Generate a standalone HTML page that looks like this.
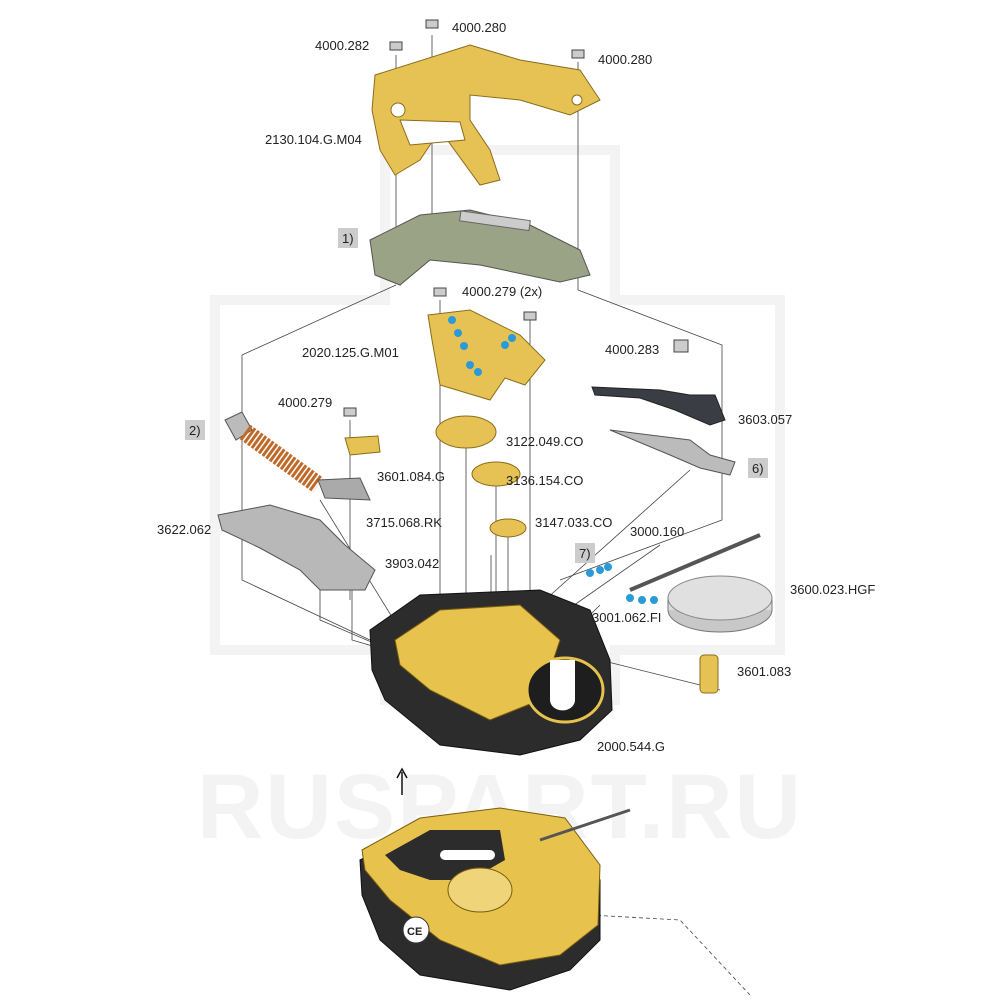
<!DOCTYPE html>
<html><head><meta charset="utf-8"><style>
html,body{margin:0;padding:0;background:#fff;}
svg{display:block;}
text{font-family:"Liberation Sans",sans-serif;font-size:13px;fill:#222;}
</style></head><body>
<svg width="1000" height="1000" viewBox="0 0 1000 1000" xmlns="http://www.w3.org/2000/svg">
<g fill="none" stroke="#f3f3f3" stroke-width="10">
<path d="M385 150 H615 V300 H780 V650 H615 V700 H385 V650 H215 V300 H385 Z"/>
</g>
<text x="500" y="838" text-anchor="middle" style="font-size:92px;font-weight:bold;fill:#f3f3f3;letter-spacing:2px">RUSPART.RU</text>

<g stroke="#444" stroke-width="0.8" fill="none">
<line x1="396" y1="55" x2="396" y2="270"/>
<line x1="432" y1="35" x2="432" y2="240"/>
<line x1="578" y1="62" x2="578" y2="290"/>
<path d="M396 285 L242 355 V580 L370 640"/>
<path d="M578 290 L722 345 V520 L560 580"/>
<line x1="440" y1="300" x2="440" y2="660"/>
<line x1="530" y1="320" x2="530" y2="650"/>
<line x1="466" y1="420" x2="466" y2="690"/>
<line x1="496" y1="470" x2="496" y2="690"/>
<line x1="508" y1="520" x2="508" y2="690"/>
<line x1="491" y1="555" x2="491" y2="670"/>
<line x1="350" y1="420" x2="350" y2="600"/>
<path d="M320 560 L320 620 L390 650"/>
<path d="M352 590 L352 640 L420 660"/>
<line x1="320" y1="500" x2="400" y2="630"/>
<line x1="690" y1="470" x2="545" y2="600"/>
<line x1="660" y1="545" x2="560" y2="615"/>
<line x1="600" y1="605" x2="575" y2="630"/>
<line x1="720" y1="690" x2="600" y2="660"/>
<path d="M590 915 L680 920 L750 995" stroke-dasharray="4,3"/>
</g>

<path d="M375 75 L470 45 L520 60 L580 70 L600 100 L570 115 L520 100 L470 95 L470 120 L490 150 L500 180 L480 185 L440 130 L420 160 L395 175 L380 150 L372 110 Z" fill="#e6c255" stroke="#8a6d1a"/>
<path d="M400 120 L460 122 L465 140 L410 145 Z" fill="#fff" stroke="#8a6d1a"/>
<circle cx="398" cy="110" r="7" fill="#fff" stroke="#8a6d1a"/>
<circle cx="577" cy="100" r="5" fill="#fff" stroke="#8a6d1a"/>
<path d="M370 240 L420 215 L470 210 L530 225 L580 250 L590 275 L560 282 L480 265 L430 260 L400 285 L375 275 Z" fill="#9aa386" stroke="#555"/>
<rect x="460" y="215" width="70" height="10" fill="#ccc" stroke="#666" transform="rotate(8 490 220)"/>
<path d="M428 315 L470 310 L520 335 L545 360 L525 385 L505 378 L490 400 L440 385 L432 340 Z" fill="#e6c255" stroke="#8a6d1a"/>
<g fill="#2a9ad8"><circle cx="452" cy="320" r="4"/><circle cx="458" cy="333" r="4"/><circle cx="464" cy="346" r="4"/><circle cx="505" cy="345" r="4"/><circle cx="512" cy="338" r="4"/><circle cx="470" cy="365" r="4"/><circle cx="478" cy="372" r="4"/></g>
<ellipse cx="466" cy="432" rx="30" ry="16" fill="#e6c255" stroke="#8a6d1a"/>
<ellipse cx="496" cy="474" rx="24" ry="12" fill="#e6c255" stroke="#8a6d1a"/>
<ellipse cx="508" cy="528" rx="18" ry="9" fill="#e6c255" stroke="#8a6d1a"/>
<!-- spring -->
<path d="M225 420 L242 412 L252 430 L236 440 Z" fill="#bbb" stroke="#555"/>
<line x1="245" y1="432" x2="318" y2="485" stroke="#c06a2a" stroke-width="18" stroke-dasharray="3,1.5"/>
<path d="M318 480 L360 478 L370 500 L325 498 Z" fill="#aaa" stroke="#555"/>
<path d="M345 438 L378 436 L380 452 L350 455 Z" fill="#e6c255" stroke="#8a6d1a"/>
<path d="M218 515 L270 505 L320 520 L345 545 L375 570 L365 590 L320 590 L300 570 L260 548 L222 530 Z" fill="#b8b8b8" stroke="#555"/>
<path d="M592 387 L660 390 L690 395 L715 395 L725 420 L710 425 L675 410 L640 398 L595 395 Z" fill="#3a3d44" stroke="#222"/>
<path d="M610 430 L690 440 L710 455 L735 462 L730 475 L700 468 L670 455 Z" fill="#bbb" stroke="#555"/>
<ellipse cx="720" cy="610" rx="52" ry="22" fill="#c8c8c8" stroke="#777"/>
<path d="M668 610 L668 600 A52 22 0 0 1 772 600 L772 610" fill="#ddd" stroke="#777"/>
<ellipse cx="720" cy="598" rx="52" ry="22" fill="#e0e0e0" stroke="#888"/>
<line x1="630" y1="590" x2="760" y2="535" stroke="#555" stroke-width="4"/>
<g fill="#2a9ad8"><circle cx="590" cy="573" r="4"/><circle cx="600" cy="570" r="4"/><circle cx="608" cy="567" r="4"/><circle cx="630" cy="598" r="4"/><circle cx="642" cy="600" r="4"/><circle cx="654" cy="600" r="4"/></g>
<rect x="700" y="655" width="18" height="38" rx="4" fill="#e6c255" stroke="#8a6d1a"/>

<path d="M370 630 L420 595 L540 590 L590 610 L610 660 L612 710 L580 740 L520 755 L440 745 L385 700 L372 670 Z" fill="#2c2c2c" stroke="#111"/>
<path d="M395 640 L440 610 L520 605 L560 640 L540 700 L490 720 L430 690 L400 665 Z" fill="#e7c34e" stroke="#7a5c10"/>
<ellipse cx="565" cy="690" rx="38" ry="32" fill="#1e1e1e" stroke="#e7c34e" stroke-width="3"/>
<path d="M550 660 L575 660 L575 700 A12 10 0 0 1 550 700 Z" fill="#fff"/>

<path d="M360 860 L420 830 L500 820 L570 830 L600 880 L600 940 L570 970 L510 990 L420 975 L380 940 L362 895 Z" fill="#2c2c2c" stroke="#111"/>
<path d="M362 850 L420 818 L500 808 L565 818 L600 865 L598 925 L560 955 L500 965 L440 940 L390 900 L365 870 Z" fill="#e7c34e" stroke="#7a5c10"/>
<path d="M385 855 L430 830 L500 830 L505 860 L470 880 L430 880 L400 870 Z" fill="#2c2c2c"/>
<rect x="440" y="850" width="55" height="10" rx="5" fill="#fff"/>
<ellipse cx="480" cy="890" rx="32" ry="22" fill="#f0d47a" stroke="#7a5c10"/>
<line x1="540" y1="840" x2="630" y2="810" stroke="#555" stroke-width="3"/>
<circle cx="416" cy="930" r="13" fill="#fff" stroke="#333"/>
<text x="407" y="935" style="font-size:11px;font-weight:bold">CE</text>

<line x1="402" y1="795" x2="402" y2="772" stroke="#111" stroke-width="1.5"/>
<path d="M397 778 L402 769 L407 778" fill="none" stroke="#111" stroke-width="1.5"/>

<g fill="#ccc" stroke="#444"><rect x="390" y="42" width="12" height="8"/><rect x="426" y="20" width="12" height="8"/><rect x="572" y="50" width="12" height="8"/><rect x="434" y="288" width="12" height="8"/><rect x="524" y="312" width="12" height="8"/><rect x="344" y="408" width="12" height="8"/><rect x="674" y="340" width="14" height="12"/></g>

<text x="315" y="50">4000.282</text>
<text x="452" y="32">4000.280</text>
<text x="598" y="64">4000.280</text>
<text x="265" y="144">2130.104.G.M04</text>
<rect x="338" y="228" width="20" height="20" fill="#ccc"/><text x="342" y="243">1)</text>
<text x="462" y="296">4000.279 (2x)</text>
<text x="302" y="357">2020.125.G.M01</text>
<text x="605" y="354">4000.283</text>
<text x="278" y="407">4000.279</text>
<rect x="185" y="420" width="20" height="20" fill="#ccc"/><text x="189" y="435">2)</text>
<text x="738" y="424">3603.057</text>
<text x="506" y="446">3122.049.CO</text>
<rect x="748" y="458" width="20" height="20" fill="#ccc"/><text x="752" y="473">6)</text>
<text x="377" y="481">3601.084.G</text>
<text x="506" y="485">3136.154.CO</text>
<text x="157" y="534">3622.062</text>
<text x="366" y="527">3715.068.RK</text>
<text x="535" y="527">3147.033.CO</text>
<text x="630" y="536">3000.160</text>
<rect x="575" y="543" width="20" height="20" fill="#ccc"/><text x="579" y="558">7)</text>
<text x="385" y="568">3903.042</text>
<text x="790" y="594">3600.023.HGF</text>
<text x="592" y="622">3001.062.FI</text>
<text x="737" y="676">3601.083</text>
<text x="597" y="751">2000.544.G</text>
</svg>
</body></html>
